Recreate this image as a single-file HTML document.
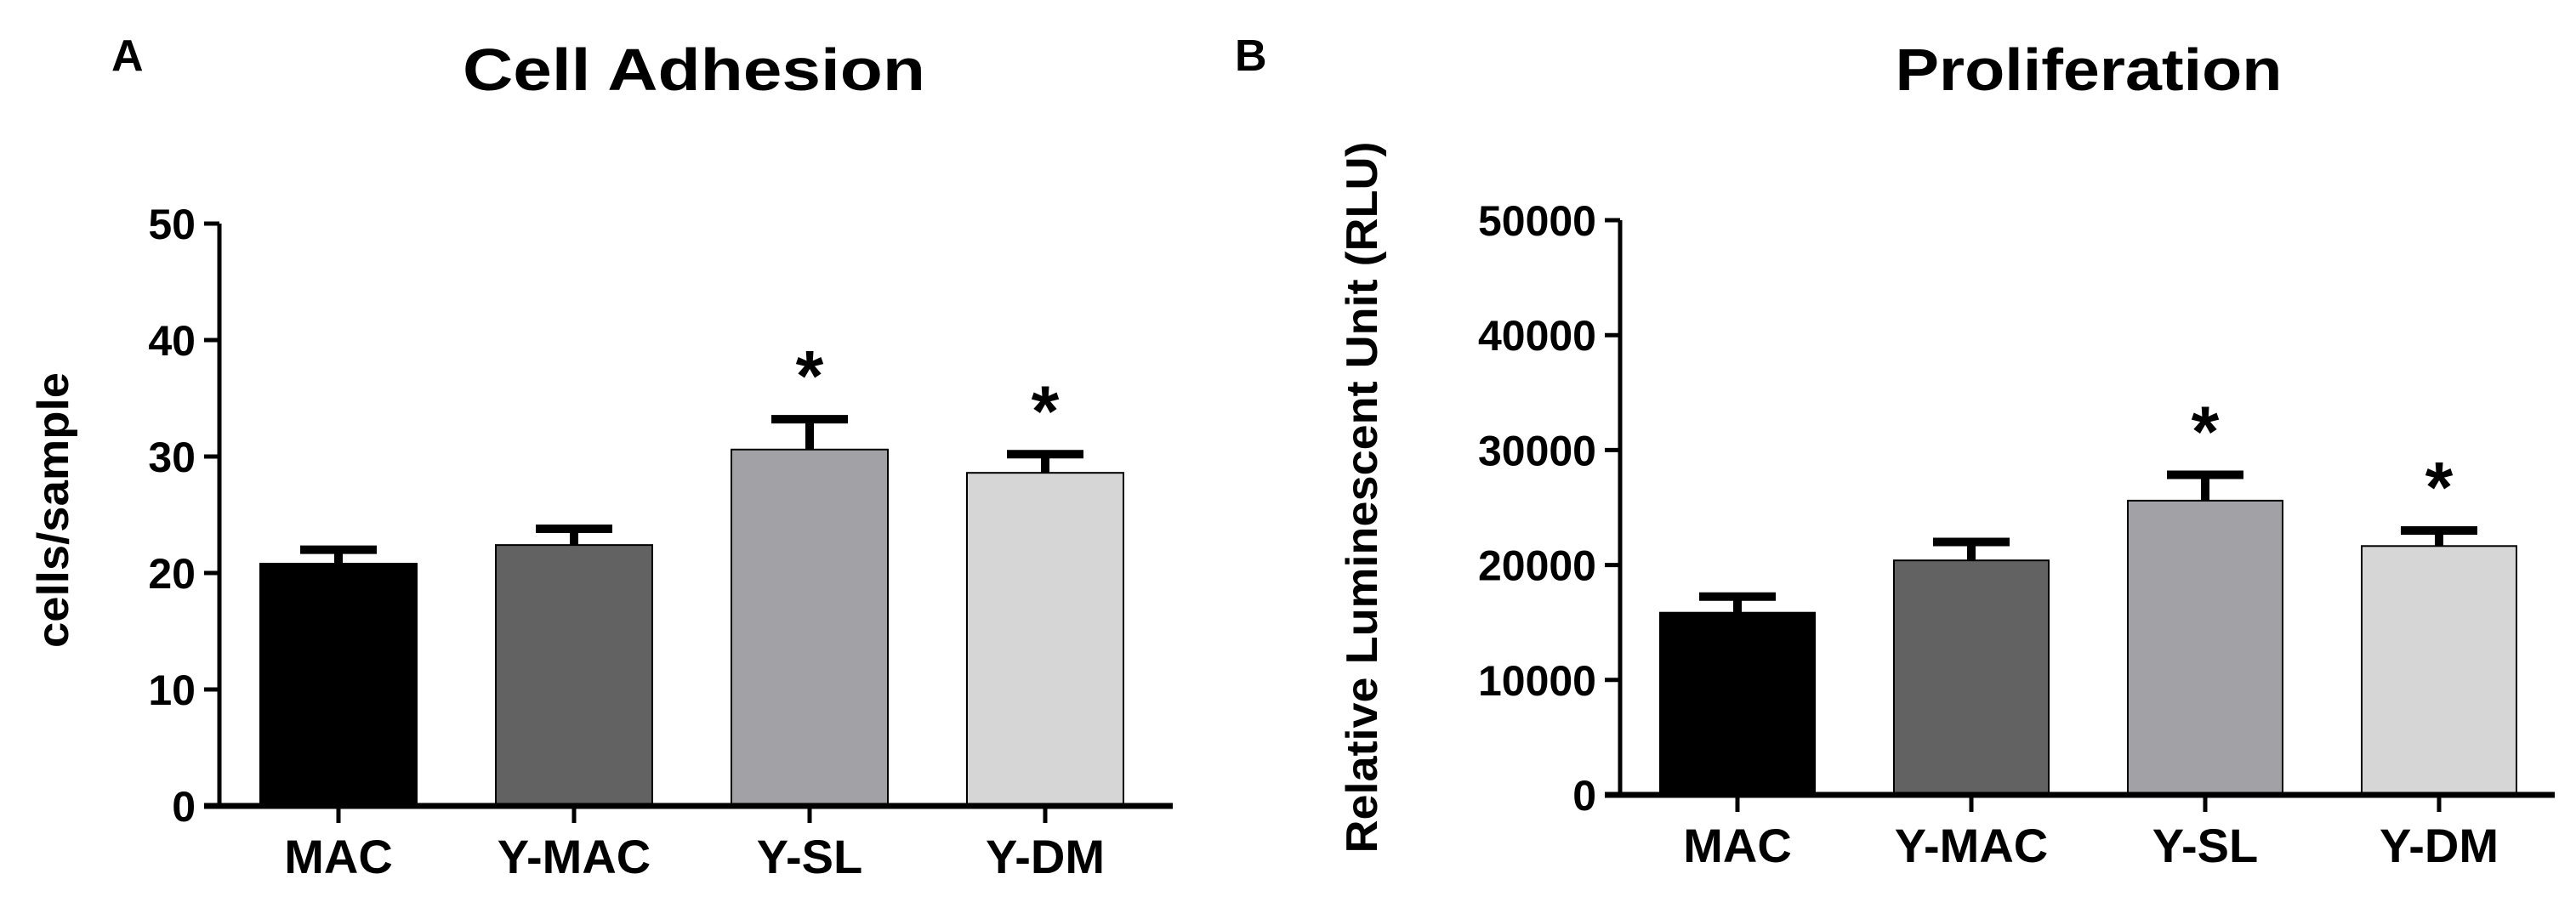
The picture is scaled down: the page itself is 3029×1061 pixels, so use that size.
<!DOCTYPE html>
<html><head><meta charset="utf-8"><style>
html,body{margin:0;padding:0;background:#fff}
svg{display:block}
text{font-family:"Liberation Sans",Arial,sans-serif;font-weight:bold;fill:#000}
</style></head><body>
<svg id="fig" width="3029" height="1061" viewBox="0 0 3029 1061" xmlns="http://www.w3.org/2000/svg">
<text x="131" y="83" font-size="52">A</text>
<text x="1452" y="83" font-size="52">B</text>
<text x="816" y="106" font-size="70" text-anchor="middle" textLength="544" lengthAdjust="spacingAndGlyphs">Cell  Adhesion</text>
<text x="2456" y="106" font-size="70" text-anchor="middle" textLength="455" lengthAdjust="spacingAndGlyphs">Proliferation</text>
<text transform="translate(80,600) rotate(-90)" font-size="52" text-anchor="middle" textLength="324" lengthAdjust="spacingAndGlyphs">cells/sample</text>
<text transform="translate(1619,585) rotate(-90)" font-size="52" text-anchor="middle" textLength="837" lengthAdjust="spacingAndGlyphs">Relative Luminescent Unit (RLU)</text>
<g id="chartA"></g>
<g id="chartB"></g>
</svg>
<script>
const categories = ["MAC", "Y-MAC", "Y-SL", "Y-DM"];
const adhesionValues = [20.8, 22.4, 30.6, 28.6];
const adhesionErrors = [1.2, 1.4, 2.6, 1.6];
const adhesionSig = [false, false, true, true];
const adhesionTicks = [0, 10, 20, 30, 40, 50];
const prolifValues = [15850, 20400, 25600, 21650];
const prolifErrors = [1400, 1600, 2250, 1350];
const prolifSig = [false, false, true, true];
const prolifTicks = [0, 10000, 20000, 30000, 40000, 50000];
const barColors = ["#000000", "#626262", "#a2a2a6", "#d6d6d6"];

const NS = "http://www.w3.org/2000/svg";
function mk(parent, tag, attrs, txt) {
  const e = document.createElementNS(NS, tag);
  for (const k in attrs) e.setAttribute(k, attrs[k]);
  if (txt !== undefined) e.textContent = txt;
  parent.appendChild(e);
  return e;
}
function draw(g, cfg, values, errors, sig, ticks) {
  const yScale = v => cfg.y0 - (v - ticks[0]) / (ticks[ticks.length - 1] - ticks[0]) * (cfg.y0 - cfg.yTop);
  const xCenter = i => cfg.c0 + cfg.step * i;
  const bw = cfg.barW;
  categories.forEach((c, i) => {
    const cx = xCenter(i);
    const top = yScale(values[i]);
    const r = mk(g, "rect", {x: cx - bw / 2, y: top, width: bw, height: cfg.y0 - top, fill: barColors[i], stroke: "#000", "stroke-width": 2});
    
    
    const eTop = yScale(values[i] + errors[i]);
    const el = mk(g, "path", {d: `M${cx},${top} V${eTop} M${cx - 45},${eTop} H${cx + 45}`, stroke: "#000", "stroke-width": 10, fill: "none"});
    
    
    if (sig[i]) {
      const s = mk(g, "text", {x: cx, y: eTop - 22, "font-size": 84, "text-anchor": "middle"}, "*");
      
      
    }
    const tk = mk(g, "line", {x1: cx, x2: cx, y1: cfg.y0, y2: cfg.y0 + 20, stroke: "#000", "stroke-width": 5});
    
    
    const lb = mk(g, "text", {x: cx, y: cfg.y0 + 79, "font-size": 56, "text-anchor": "middle"}, c);
    
    
  });
  const ya = mk(g, "line", {x1: cfg.xAxis, x2: cfg.xAxis, y1: cfg.yTop, y2: cfg.y0 + 3, stroke: "#000", "stroke-width": 5});
  
  
  const xa = mk(g, "line", {x1: cfg.xAxis - 18, x2: cfg.xEnd, y1: cfg.y0, y2: cfg.y0, stroke: "#000", "stroke-width": 7});
  
  
  ticks.forEach(t => {
    const y = yScale(t);
    const tl = mk(g, "line", {x1: cfg.xAxis - 18, x2: cfg.xAxis, y1: y, y2: y, stroke: "#000", "stroke-width": 5});
    
    
    const tx = mk(g, "text", {x: cfg.xAxis - 28, y: y + cfg.fs * 0.36, "font-size": cfg.fs, "text-anchor": "end"}, String(t));
    
    
  });
}
draw(document.getElementById("chartA"), {xAxis: 258, xEnd: 1379, yTop: 263, y0: 948, c0: 398, step: 277, barW: 184, fs: 50}, adhesionValues, adhesionErrors, adhesionSig, adhesionTicks);
draw(document.getElementById("chartB"), {xAxis: 1905, xEnd: 3004, yTop: 259, y0: 935, c0: 2043, step: 275, barW: 182, fs: 50}, prolifValues, prolifErrors, prolifSig, prolifTicks);
</script>
</body></html>
